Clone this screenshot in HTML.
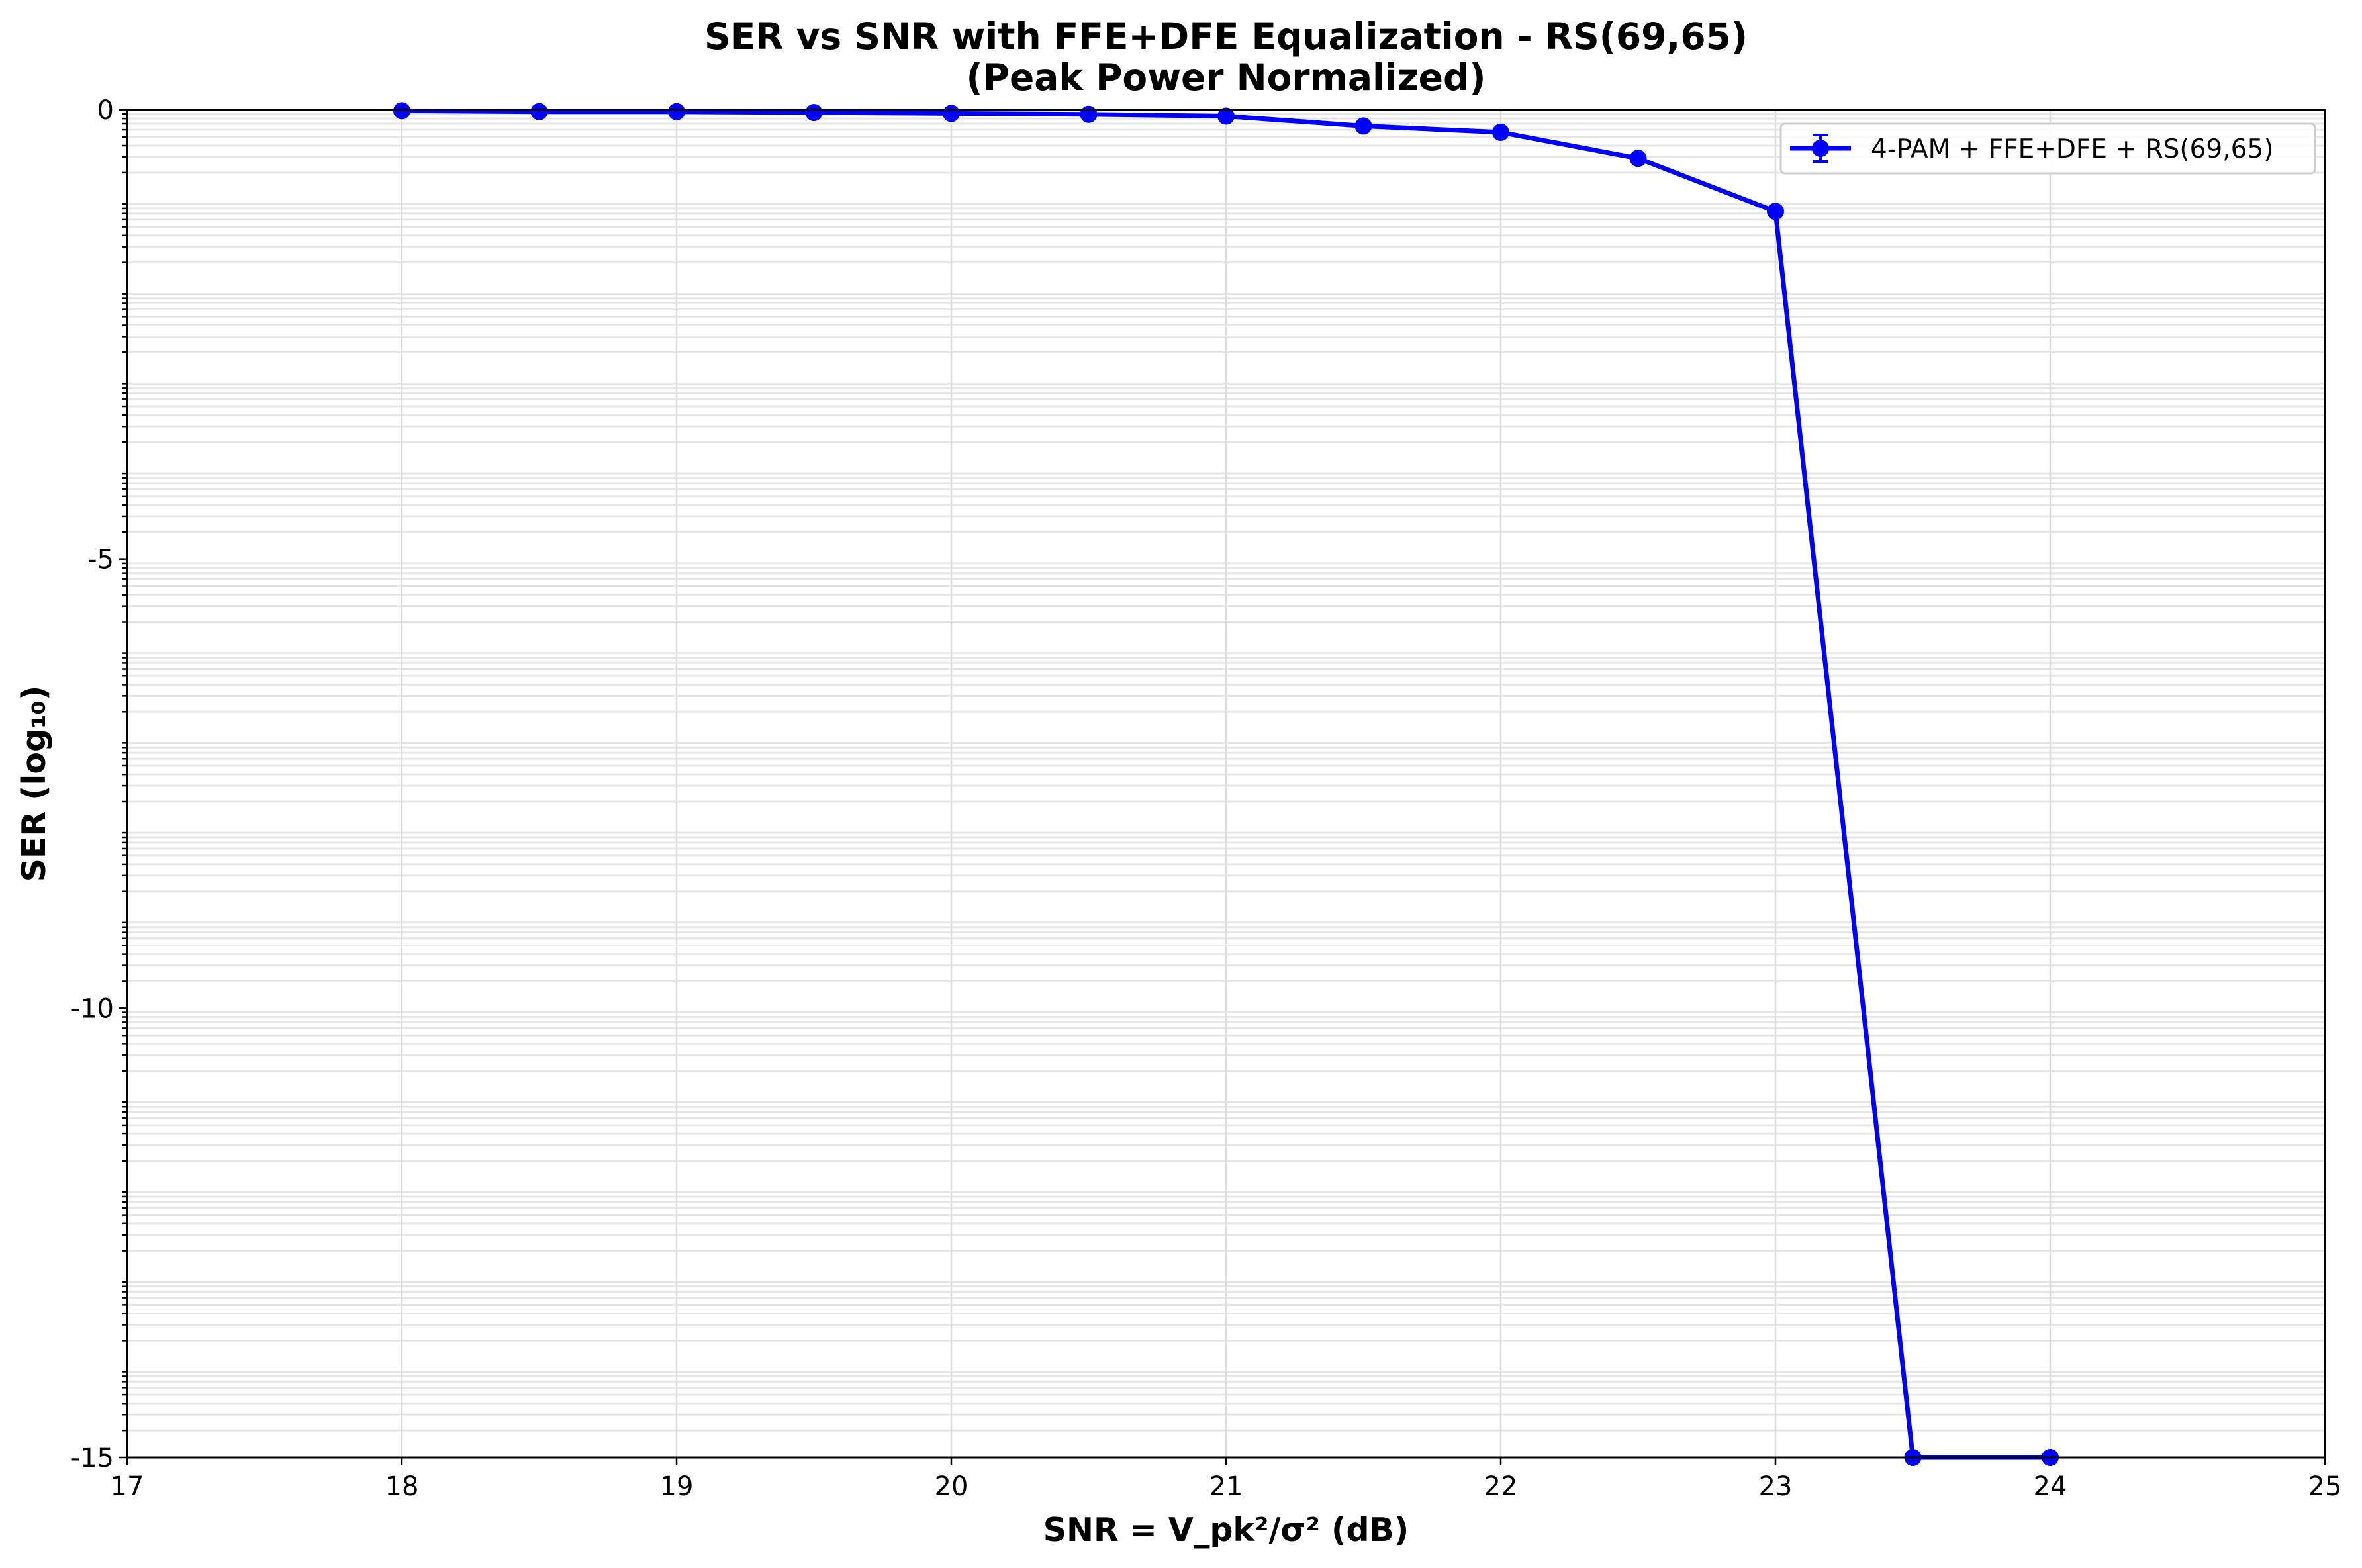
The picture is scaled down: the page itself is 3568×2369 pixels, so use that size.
<!DOCTYPE html>
<html><head><meta charset="utf-8"><style>
html,body{margin:0;padding:0;background:#fff;}
svg{display:block;font-family:"DejaVu Sans","Liberation Sans",sans-serif;}
</style></head><body>
<svg id="chart" width="3568" height="2369" viewBox="0 0 3568 2369" xmlns="http://www.w3.org/2000/svg">
<rect width="3568" height="2369" fill="#fff"/>
<g id="grid"></g>
<g id="ticks"></g>
<g id="series"></g>
<rect x="192" y="166" width="3320" height="2036" fill="none" stroke="#000" stroke-width="3"/>
<text x="1852" y="74" text-anchor="middle" font-size="55" font-weight="bold">SER vs SNR with FFE+DFE Equalization - RS(69,65)</text>
<text x="1852" y="136" text-anchor="middle" font-size="55" font-weight="bold">(Peak Power Normalized)</text>
<text x="1852" y="2328" text-anchor="middle" font-size="49" font-weight="bold">SNR = V_pk²/σ² (dB)</text>
<text x="0" y="0" transform="translate(68,1184) rotate(-90)" text-anchor="middle" font-size="49" font-weight="bold">SER (log₁₀)</text>
<g>
<rect x="2690" y="187" width="807" height="75" rx="6" fill="#fff" fill-opacity="0.8" stroke="#ccc" stroke-width="3"/>
<line x1="2704" y1="224" x2="2796" y2="224" stroke="#00f" stroke-width="7"/>
<line x1="2750" y1="204" x2="2750" y2="244" stroke="#00f" stroke-width="4"/>
<line x1="2738" y1="204" x2="2762" y2="204" stroke="#00f" stroke-width="4"/>
<line x1="2738" y1="244" x2="2762" y2="244" stroke="#00f" stroke-width="4"/>
<circle cx="2750" cy="224" r="13" fill="#00f"/>
<text x="2826" y="238" font-size="39">4-PAM + FFE+DFE + RS(69,65)</text>
</g>
</svg>
<script>
const snrValues = [18, 18.5, 19, 19.5, 20, 20.5, 21, 21.5, 22, 22.5, 23, 23.5, 24];
const serLog = [-0.01, -0.02, -0.02, -0.03, -0.04, -0.05, -0.07, -0.18, -0.25, -0.54, -1.13, -15, -15];
const xTicks = [17, 18, 19, 20, 21, 22, 23, 24, 25];
const yTicks = [0, -5, -10, -15];
const yTickLabels = ["0", "-5", "-10", "-15"];

const X0 = 192, X1 = 3512, Y0 = 166, Y1 = 2202;
const xMin = 17, xMax = 25, yMax = 0, yMin = -15;
function sx(v){ return X0 + (v - xMin) / (xMax - xMin) * (X1 - X0); }
function sy(v){ return Y0 + (yMax - v) / (yMax - yMin) * (Y1 - Y0); }
const NS = "http://www.w3.org/2000/svg";
function mk(tag, attrs, parent){
  const e = document.createElementNS(NS, tag);
  for (const k in attrs) e.setAttribute(k, attrs[k]);
  parent.appendChild(e);
  return e;
}
const grid = document.getElementById('grid');
const ticks = document.getElementById('ticks');
const series = document.getElementById('series');

for (let m = 0; m < 15; m++) {
  for (let k = 2; k <= 9; k++) {
    const v = Math.log10(k) - 1 - m;
    const y = sy(v);
    const gl = mk('line', {x1: X0, x2: X1, y1: y, y2: y, stroke: '#e6e6e6', 'stroke-width': 3}, grid);
    
    
    const t = mk('line', {x1: X0 - 7, x2: X0, y1: y, y2: y, stroke: '#000', 'stroke-width': 2.5}, ticks);
    
    
  }
}
xTicks.forEach(v => {
  const x = sx(v);
  const gl = mk('line', {x1: x, x2: x, y1: Y0, y2: Y1, stroke: '#dcdcdc', 'stroke-width': 2.5}, grid);
  
  
  const t = mk('line', {x1: x, x2: x, y1: Y1, y2: Y1 + 12, stroke: '#000', 'stroke-width': 2.5}, ticks);
  
  
  const lb = mk('text', {x: x, y: Y1 + 57, 'text-anchor': 'middle', 'font-size': 40}, ticks);
  
  
  lb.textContent = String(v);
});
yTicks.forEach((v, i) => {
  const y = sy(v);
  const t = mk('line', {x1: X0 - 12, x2: X0, y1: y, y2: y, stroke: '#000', 'stroke-width': 2.5}, ticks);
  
  
  const lb = mk('text', {x: X0 - 20, y: y + 14, 'text-anchor': 'end', 'font-size': 40}, ticks);
  
  
  lb.textContent = yTickLabels[i];
});
const pts = snrValues.map((v, i) => sx(v) + ',' + sy(serLog[i])).join(' ');
const pl = mk('polyline', {points: pts, fill: 'none', stroke: '#00f', 'stroke-width': 7, 'stroke-linejoin': 'round'}, series);


snrValues.forEach((v, i) => {
  const c = mk('circle', {cx: sx(v), cy: sy(serLog[i]), r: 13, fill: '#00f'}, series);
  
  
});
</script>
</body></html>
